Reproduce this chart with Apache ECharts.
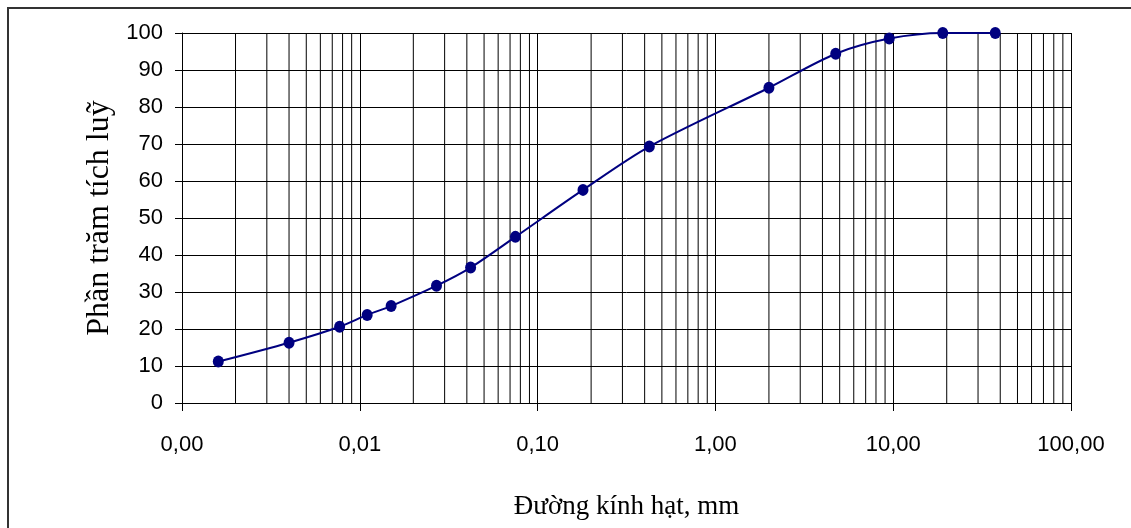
<!DOCTYPE html>
<html>
<head>
<meta charset="utf-8">
<script src="https://cdn.jsdelivr.net/npm/echarts@6/dist/echarts.min.js"></script>
<style>
  html, body { margin: 0; padding: 0; background: #fff; }
  #chart { width: 1131px; height: 528px; }
</style>
</head>
<body>
<div id="chart"></div>
<script>
// duong kinh hat (mm) va phan tram tich luy
const diameters = [0.0016, 0.004, 0.0077, 0.011, 0.015, 0.027, 0.042, 0.075, 0.18, 0.425, 2.0, 4.75, 9.5, 19, 37.5];
const percents = [11.2, 16.3, 20.6, 23.8, 26.2, 31.7, 36.6, 44.9, 57.6, 69.3, 85.2, 94.4, 98.5, 100, 100];
const yTicks = [0, 10, 20, 30, 40, 50, 60, 70, 80, 90, 100];
const decades = [0.001, 0.01, 0.1, 1, 10, 100];

// vach luoi phu 2..9 trong moi thap phan (ve bang cac doan thang doc)
const minorGrid = [];
for (let i = 0; i < decades.length - 1; i++) {
  for (let k = 2; k <= 9; k++) {
    const x = decades[i] * k;
    minorGrid.push([x, yTicks[0]], [x, yTicks[yTicks.length - 1]], [x, '-']);
  }
}

const chart = echarts.init(document.getElementById('chart'));

const option = {
  animation: false,
  backgroundColor: '#fff',
  graphic: [
    {
      type: 'rect',
      shape: { x: 8, y: 8, width: 1200, height: 600 },
      style: { fill: 'none', stroke: '#333', lineWidth: 2 },
      silent: true,
    },
  ],
  grid: {
    left: 182,
    right: 60,
    top: 33,
    bottom: 125,
  },
  xAxis: {
    type: 'log',
    logBase: 10,
    min: 0.001,
    max: 100,
    name: 'Đường kính hạt, mm',
    nameLocation: 'middle',
    nameGap: 90,
    nameTextStyle: {
      fontFamily: 'Liberation Serif',
      fontSize: 27,
      color: '#000',
    },
    axisLine: { lineStyle: { color: '#000', width: 1 } },
    axisTick: { show: true, length: 8, lineStyle: { color: '#000' } },
    splitLine: { show: true, lineStyle: { color: '#000', width: 1 } },
    minorTick: { show: false },
    axisLabel: {
      margin: 31,
      fontFamily: 'Liberation Sans',
      fontSize: 22,
      color: '#000',
      formatter: (v) => v.toFixed(2).replace('.', ','),
    },
  },
  yAxis: {
    type: 'value',
    min: yTicks[0],
    max: yTicks[yTicks.length - 1],
    interval: 10,
    name: 'Phần trăm tích luỹ',
    nameLocation: 'middle',
    nameGap: 59,
    nameTextStyle: {
      fontFamily: 'Liberation Serif',
      fontSize: 32,
      color: '#000',
    },
    axisLine: { show: true, lineStyle: { color: '#000', width: 1 } },
    axisTick: { show: true, length: 7, lineStyle: { color: '#000' } },
    splitLine: { show: true, lineStyle: { color: '#000', width: 1 } },
    axisLabel: {
      margin: 19,
      fontFamily: 'Liberation Sans',
      fontSize: 22,
      color: '#000',
    },
  },
  series: [
    {
      type: 'line',
      silent: true,
      symbol: 'none',
      connectNulls: false,
      data: minorGrid,
      lineStyle: { color: '#000', width: 1 },
      z: 1,
    },
    {
      type: 'line',
      data: diameters.map((d, i) => [d, percents[i]]),
      smooth: 0.3,
      symbol: 'circle',
      symbolSize: [11, 12],
      lineStyle: { color: '#000080', width: 2 },
      itemStyle: { color: '#000080' },
      z: 5,
    },
  ],
};

chart.setOption(option);
</script>
</body>
</html>
